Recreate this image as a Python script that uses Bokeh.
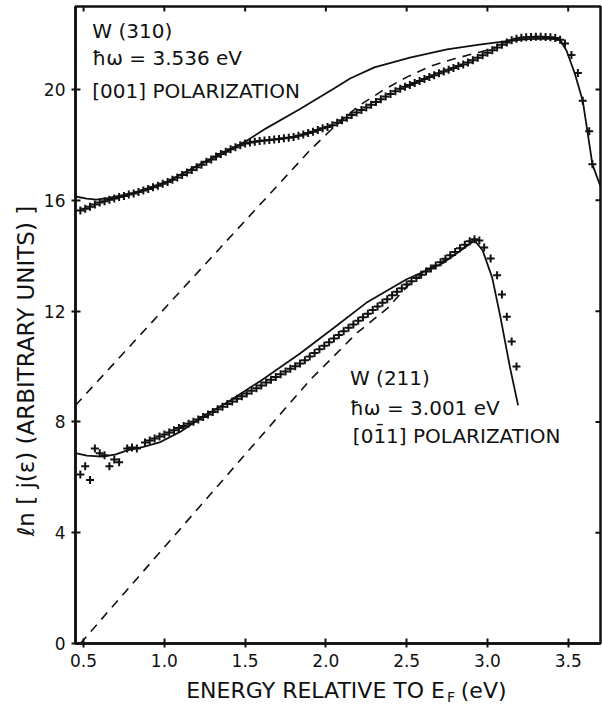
import math
from bokeh.plotting import figure
from bokeh.models import Label, FixedTicker
from bokeh.layouts import column
from bokeh.embed import file_html
from bokeh.resources import INLINE

# ---------------- data ----------------
x_min, x_max = 0.45, 3.70
y_min, y_max = 0.0, 23.0
x_ticks = [0.5, 1.0, 1.5, 2.0, 2.5, 3.0, 3.5]
x_tick_labels = ["0.5", "1.0", "1.5", "2.0", "2.5", "3.0", "3.5"]
y_ticks = [0, 4, 8, 12, 16, 20]
y_tick_labels = ["0", "4", "8", "12", "16", "20"]

# W(310) measured points
w310_x = [0.48, 0.51, 0.54, 0.57, 0.60, 0.63, 0.66, 0.69, 0.72, 0.75, 0.78, 0.81, 0.84, 0.87, 0.90,
          0.93, 0.96, 0.99, 1.02, 1.05, 1.08, 1.11, 1.14, 1.17, 1.20, 1.23, 1.26, 1.29, 1.32, 1.35,
          1.38, 1.41, 1.44, 1.47, 1.50, 1.53, 1.56, 1.59, 1.62, 1.65, 1.68, 1.71, 1.74, 1.77, 1.80,
          1.83, 1.86, 1.89, 1.92, 1.95, 1.98, 2.01, 2.04, 2.07, 2.10, 2.13, 2.16, 2.19, 2.22, 2.25,
          2.28, 2.31, 2.34, 2.37, 2.40, 2.43, 2.46, 2.49, 2.52, 2.55, 2.58, 2.61, 2.64, 2.67, 2.70,
          2.73, 2.76, 2.79, 2.82, 2.85, 2.88, 2.91, 2.94, 2.97, 3.00, 3.03, 3.06, 3.09, 3.12, 3.15,
          3.18, 3.21, 3.24, 3.27, 3.30, 3.33, 3.36, 3.39, 3.42, 3.45, 3.48, 3.52, 3.56, 3.59, 3.63, 3.65]
w310_y = [15.63, 15.70, 15.77, 15.85, 15.92, 15.97, 16.02, 16.07, 16.12, 16.16, 16.21, 16.25, 16.30, 16.36, 16.41,
          16.47, 16.53, 16.60, 16.66, 16.74, 16.83, 16.92, 17.01, 17.10, 17.20, 17.29, 17.39, 17.48, 17.58, 17.67,
          17.76, 17.85, 17.92, 17.99, 18.05, 18.09, 18.12, 18.14, 18.16, 18.18, 18.20, 18.22, 18.24, 18.26, 18.29,
          18.33, 18.38, 18.43, 18.48, 18.54, 18.60, 18.65, 18.71, 18.80, 18.89, 18.98, 19.08, 19.17, 19.26, 19.35,
          19.45, 19.55, 19.65, 19.75, 19.84, 19.94, 20.03, 20.10, 20.17, 20.24, 20.31, 20.38, 20.45, 20.52, 20.59,
          20.65, 20.72, 20.78, 20.85, 20.91, 20.98, 21.06, 21.15, 21.24, 21.33, 21.42, 21.52, 21.62, 21.70, 21.78,
          21.84, 21.87, 21.89, 21.90, 21.91, 21.91, 21.90, 21.89, 21.86, 21.80, 21.66, 21.25, 20.60, 19.60, 18.50, 17.30]

# W(310) theory (solid) and extrapolation (dashed)
w310_fit_x = [0.45, 0.52, 0.58, 0.65, 0.81, 1.02, 1.22, 1.43, 1.50, 1.63, 1.84, 2.04, 2.15, 2.30, 2.52,
              2.75, 2.95, 3.12, 3.25, 3.38, 3.45, 3.49, 3.54, 3.59, 3.65, 3.70]
w310_fit_y = [16.14, 16.06, 16.03, 16.08, 16.27, 16.68, 17.30, 17.90, 18.12, 18.60, 19.30, 20.00, 20.40, 20.80, 21.15,
              21.45, 21.62, 21.75, 21.82, 21.84, 21.80, 21.40, 20.60, 19.60, 17.30, 16.50]
w310_dash_x = [0.45, 1.90, 2.05, 2.20, 2.35, 2.50, 2.65, 2.80, 2.95, 3.05]
w310_dash_y = [8.60, 17.80, 18.65, 19.40, 19.96, 20.45, 20.85, 21.12, 21.35, 21.50]

# W(211) measured points
w211_x = [0.48, 0.51, 0.54, 0.57, 0.60, 0.63, 0.66, 0.69, 0.72, 0.77, 0.80, 0.83, 0.88, 0.91,
          0.94, 0.97, 1.00, 1.03, 1.06, 1.09, 1.12, 1.15, 1.18, 1.21, 1.24, 1.27, 1.30, 1.33, 1.36,
          1.39, 1.42, 1.45, 1.48, 1.51, 1.54, 1.57, 1.60, 1.63, 1.66, 1.69, 1.72, 1.75, 1.78, 1.81,
          1.84, 1.87, 1.90, 1.93, 1.96, 1.99, 2.02, 2.05, 2.08, 2.11, 2.14, 2.17, 2.20, 2.23, 2.26,
          2.29, 2.32, 2.35, 2.38, 2.41, 2.44, 2.47, 2.50, 2.53, 2.56, 2.59, 2.62, 2.65, 2.68, 2.71,
          2.74, 2.77, 2.80, 2.83, 2.86, 2.89, 2.92, 2.95, 2.98, 3.02, 3.06, 3.09, 3.12, 3.15, 3.18]
w211_y = [6.10, 6.40, 5.90, 7.04, 6.87, 6.80, 6.40, 6.64, 6.54, 7.04, 7.08, 7.04, 7.26, 7.33,
          7.40, 7.47, 7.55, 7.62, 7.70, 7.78, 7.85, 7.93, 8.01, 8.09, 8.18, 8.27, 8.36, 8.46, 8.55,
          8.65, 8.74, 8.84, 8.93, 9.03, 9.13, 9.22, 9.32, 9.42, 9.52, 9.62, 9.72, 9.82, 9.92, 10.01,
          10.11, 10.23, 10.36, 10.49, 10.62, 10.75, 10.88, 11.01, 11.14, 11.27, 11.40, 11.52, 11.65, 11.78, 11.91,
          12.04, 12.17, 12.30, 12.43, 12.57, 12.70, 12.83, 12.96, 13.08, 13.20, 13.31, 13.43, 13.54, 13.65, 13.77,
          13.89, 14.02, 14.14, 14.27, 14.40, 14.52, 14.60, 14.55, 14.30, 13.90, 13.30, 12.60, 11.80, 10.90, 10.00]

w211_fit_x = [0.45, 0.52, 0.62, 0.70, 0.77, 0.87, 0.97, 1.10, 1.22, 1.40, 1.60, 1.84, 2.05, 2.25, 2.50,
              2.72, 2.85, 2.92, 2.97, 3.03, 3.08, 3.14, 3.19]
w211_fit_y = [6.87, 6.78, 6.75, 6.83, 6.97, 7.10, 7.26, 7.65, 8.12, 8.75, 9.50, 10.47, 11.40, 12.30, 13.15,
              13.72, 14.25, 14.55, 14.20, 13.20, 11.80, 9.96, 8.60]
w211_dash_x = [0.48, 1.90, 2.19, 2.38, 2.52, 2.65, 2.75]
w211_dash_y = [0.00, 9.50, 11.20, 12.10, 13.00, 13.55, 13.90]

# ---------------- figure ----------------
FONT = "DejaVu Sans"
INK = "#111111"

p = figure(width=602, height=673, x_range=(x_min, x_max), y_range=(y_min, y_max),
           min_border_left=75, min_border_right=2, min_border_top=6, min_border_bottom=30,
           output_backend="svg", toolbar_location=None,
           outline_line_color=INK, outline_line_width=2.5)
p.xgrid.visible = False
p.ygrid.visible = False
p.background_fill_color = "white"
p.border_fill_color = "white"

def style_axis(ax, ticks, labels):
    ax.ticker = FixedTicker(ticks=ticks)
    ax.major_label_overrides = {t: l for t, l in zip(ticks, labels)}
    ax.axis_line_width = 2.5
    ax.axis_line_color = INK
    ax.major_tick_line_width = 2
    ax.major_tick_line_color = INK
    ax.major_tick_in = 5
    ax.major_tick_out = 4
    ax.minor_tick_line_color = None
    ax.major_label_text_font = FONT
    ax.major_label_text_color = INK
    ax.major_label_text_font_size = "17px"

style_axis(p.xaxis[0], x_ticks, x_tick_labels)
p.xaxis[0].major_label_standoff = 6
style_axis(p.yaxis[0], y_ticks, y_tick_labels)
p.yaxis[0].major_label_standoff = 6

# y-axis title (trailing en-spaces shift it down to where the original sits)
p.yaxis[0].axis_label = "ℓn [ j(ε) (ARBITRARY UNITS) ]" + "\u2002" * 8
p.yaxis[0].axis_label_text_font = FONT
p.yaxis[0].axis_label_text_font_style = "normal"
p.yaxis[0].axis_label_text_font_size = "23px"
p.yaxis[0].axis_label_text_color = INK
p.yaxis[0].axis_label_standoff = 2

# tick marks on the top and right frame edges (from the same tick lists)
p.scatter(x_ticks, [y_max] * len(x_ticks), marker="dash", angle=math.pi / 2, size=10,
          line_color=INK, line_width=2)
p.scatter([x_max] * len(y_ticks), y_ticks, marker="dash", size=10, line_color=INK, line_width=2)

# curves
p.line(w310_fit_x, w310_fit_y, line_color=INK, line_width=1.8)
p.line(w310_dash_x, w310_dash_y, line_color=INK, line_width=1.6, line_dash="9 7")
p.scatter(w310_x, w310_y, marker="cross", size=8, line_color=INK, line_width=2)

p.line(w211_fit_x, w211_fit_y, line_color=INK, line_width=1.8)
p.line(w211_dash_x, w211_dash_y, line_color=INK, line_width=1.6, line_dash="9 7")
p.scatter(w211_x, w211_y, marker="cross", size=8, line_color=INK, line_width=2)

def lab(fig, x, y, text, size="20px", align="left", baseline="middle", angle=0.0):
    l = Label(x=x, y=y, text=text, text_font=FONT, text_font_size=size, text_color=INK,
              text_align=align, text_baseline=baseline, angle=angle)
    fig.add_layout(l)
    return l

# annotations
lab(p, 0.554, 22.13, "W (310)")
lab(p, 0.554, 21.15, "ħω = 3.536 eV")
lab(p, 0.554, 19.96, "[001] POLARIZATION")
lab(p, 2.149, 9.57, "W (211)")
lab(p, 2.149, 8.52, "ħω = 3.001 eV")
lab(p, 2.167, 7.51, "[01\u03041] POLARIZATION")

# x-axis title strip (shares the x scale so the subscript can sit beside the E)
p2 = figure(width=602, height=33, x_range=p.x_range, y_range=(0, 1),
            min_border_left=75, min_border_right=2, min_border_top=0, min_border_bottom=0,
            x_axis_type=None, y_axis_type=None,
            output_backend="svg", toolbar_location=None, outline_line_color=None)
p2.xgrid.visible = False
p2.ygrid.visible = False
lab(p2, 2.737, 0.50, "ENERGY RELATIVE TO E", size="22px", align="right")
lab(p2, 2.749, 0.30, "F", size="14px", align="left")
lab(p2, 2.835, 0.50, "(eV)", size="22px", align="left")

layout = column(p, p2, spacing=0)
open("out.html", "w").write(file_html(layout, INLINE))
